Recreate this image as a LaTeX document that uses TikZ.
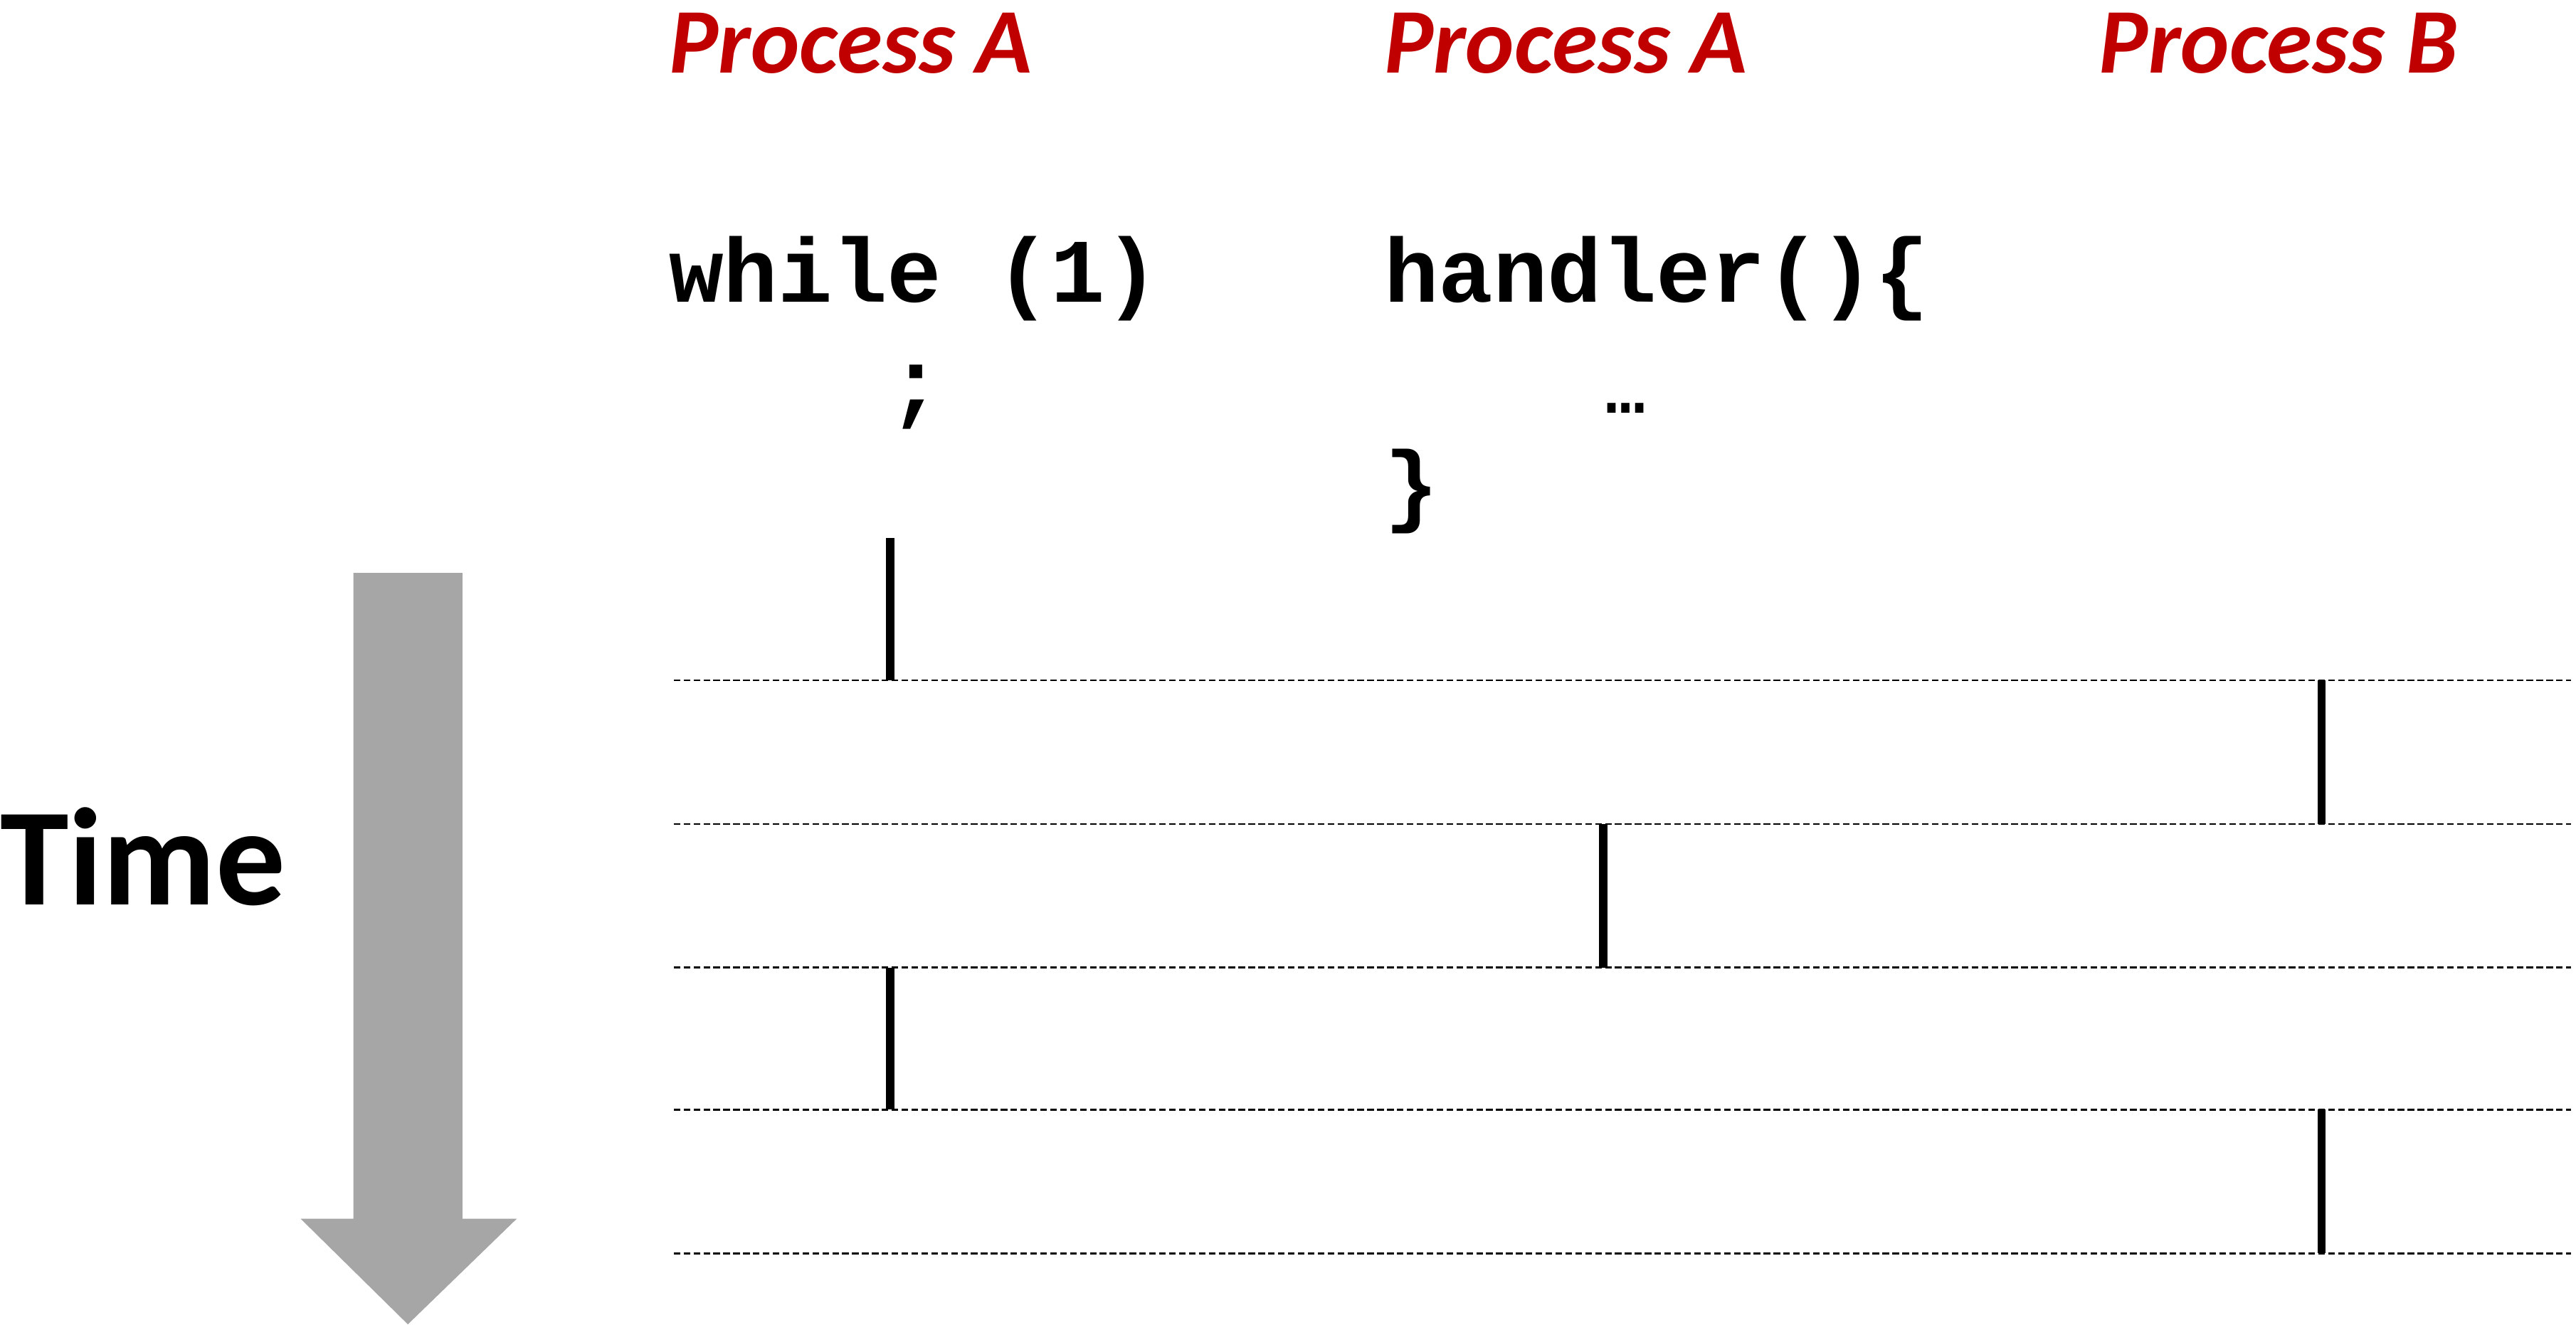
\documentclass[tikz,border=0pt]{standalone}
\usepackage{fontspec}
\setmainfont{Carlito}
\newfontfamily\codefont{Liberation Mono}
\definecolor{procred}{HTML}{C00000}
\definecolor{arrgray}{HTML}{A6A6A6}
\begin{document}
\begin{tikzpicture}[x=1pt,y=-1pt,
  proc/.style={anchor=base west,inner sep=0pt,font=\fontsize{56}{60}\selectfont\bfseries\itshape,text=procred},
  code/.style={anchor=base west,inner sep=0pt,font=\fontsize{55}{60}\selectfont\codefont\bfseries},
  tl/.style={dash pattern=on 4pt off 2pt,line width=1.2pt},
  bar/.style={line width=5pt}]
\useasboundingbox (0,0) rectangle (1560,802);
\node[proc] (pa1) at (405,44) {Process A};
\node[proc] (pa2) at (838,44) {Process A};
\node[proc] (pb) at (1271,44) {Process B};
\node[code] (w) at (405,183) {while (1)};
\node[code] (s) at (538,250) {;};
\node[code] (h) at (838,183) {handler()\{};
\node[code] (d) at (972,250) {\fontsize{40}{40}\selectfont …};
\node[code] (b) at (838,312) {\}};
\node[anchor=base west,inner sep=0pt,font=\fontsize{84}{88}\selectfont\bfseries] (t) at (0,548) {Time};
\fill[arrgray] (214,347) -- (280,347) -- (280,738) -- (313,738) -- (247,802) -- (182,738) -- (214,738) -- cycle;
\foreach \y/\n in {412/l1,499/l2,586/l3,672/l4,759/l5}{
  \coordinate (\n a) at (408,\y); \coordinate (\n b) at (1557,\y);
  \draw[tl] (\n a) -- (\n b);}
\coordinate (v0) at (539,326);
\draw[bar] (v0) -- (539,412);
\draw[bar] (1406,412) -- (1406,499);
\draw[bar] (971,499) -- (971,586);
\draw[bar] (539,586) -- (539,672);
\draw[bar] (1406,672) -- (1406,759);
\end{tikzpicture}
\end{document}
